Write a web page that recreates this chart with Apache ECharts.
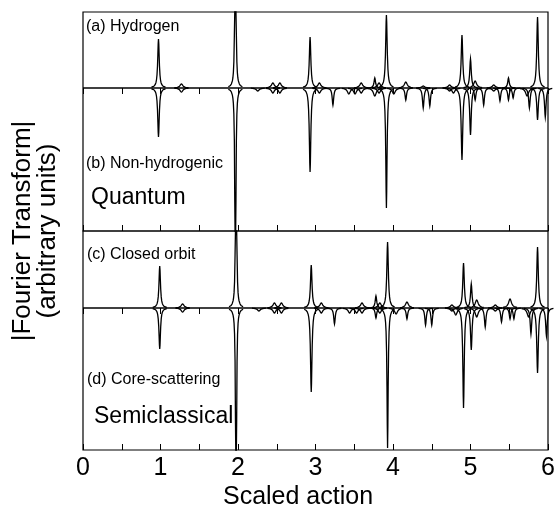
<!DOCTYPE html>
<html>
<head>
<meta charset="utf-8">
<script src="https://cdn.jsdelivr.net/npm/echarts@6/dist/echarts.min.js"></script>
<style>html,body{margin:0;padding:0;background:#fff}#c{width:560px;height:511px}</style>
</head>
<body>
<div id="c"></div>
<script>
// ---- data (arbitrary units; spikes given as [scaled action, amplitude]) ----
const xTicks = [0, 1, 2, 3, 4, 5, 6];
const hydrogen = [[0.974,49],[1.27,4],[1.966,300],[2.45,5],[2.54,5],[2.93,51],[3.05,5],[3.59,5],[3.765,10],[3.82,5],[3.915,73],[4.165,6],[4.39,2],[4.73,3],[4.89,53],[5.0,29],[5.06,7],[5.30,3],[5.49,10],[5.865,71]];
const nonHydrogenic = [[0.974,-49],[1.27,-4],[1.966,-300],[2.255,-3],[2.45,-5],[2.54,-5],[2.93,-84],[3.05,-5],[3.225,-17],[3.43,-6],[3.51,-6],[3.59,-5],[3.765,-8],[3.82,-5],[3.915,-120],[4.01,-6],[4.165,-12],[4.39,-20],[4.475,-18],[4.73,-3],[4.78,-5],[4.89,-72],[5.0,-47],[5.06,-12],[5.17,-17],[5.30,-3],[5.38,-13],[5.49,-12],[5.55,-10],[5.73,-8],[5.76,-20],[5.865,-32],[5.965,-29]];
const closedOrbit = [[0.99,42],[1.285,4],[1.975,300],[2.47,5],[2.56,5],[2.945,43],[3.075,5],[3.60,5],[3.78,12],[3.83,5],[3.93,66],[4.18,6],[4.76,3],[4.91,45],[5.01,24],[5.08,8],[5.32,3],[5.51,9],[5.865,61]];
const coreScattering = [[0.99,-41],[1.285,-4],[1.975,-300],[2.27,-3],[2.47,-5],[2.56,-5],[2.945,-84],[3.075,-5],[3.245,-16],[3.44,-5],[3.53,-5],[3.60,-5],[3.78,-10],[3.83,-5],[3.93,-140],[4.04,-6],[4.18,-11],[4.42,-17],[4.50,-17],[4.76,-3],[4.81,-7],[4.91,-100],[5.01,-42],[5.08,-9],[5.19,-19],[5.32,-3],[5.40,-14],[5.51,-11],[5.56,-11],[5.75,-9],[5.78,-26],[5.865,-65],[5.98,-28]];
const baseline = [[0,0],[6,0]];

// ---- rendering ----
const offs = [-7,-5,-4,-3,-2.5,-2,-1.5,-1,-0.6,-0.3,0,0.3,0.6,1,1.5,2,2.5,3,4,5,7];
function spike(params, api){
  const x = api.value(0), h = api.value(1);
  const p0 = api.coord([x, 0]), pt = api.coord([x, h]);
  const cs = params.coordSys;
  const H = pt[1] - p0[1];
  const A = Math.abs(H);
  const g = A < 10 ? 1.8 : (A > 80 ? 0.9 * Math.sqrt(80 / A) : 0.9);
  const pts = offs.map(d => {
    let y = p0[1] + H / (1 + (d/g)*(d/g));
    y = Math.max(cs.y, Math.min(cs.y + cs.height, y));
    return [p0[0] + d, y];
  });
  return {type:'polyline', shape:{points:pts}, style:{stroke:'#000', lineWidth:1.3, fill:null}};
}
const chart = echarts.init(document.getElementById('c'));
const FONT = '"Liberation Sans", Arial, Helvetica, sans-serif';
function xAx(grid, pos, labels){
  return {type:'value', gridIndex:grid, position:pos, min:0, max:6, interval:0.5,
    axisLine:{show:false}, splitLine:{show:false},
    axisTick:{show:true, inside:true, length:6, lineStyle:{color:'#000', width:1}},
    axisLabel:{show:labels, margin:6, fontSize:25, color:'#000', fontFamily:FONT,
      formatter: v => xTicks.includes(v) ? String(v) : ''}};
}
const txt = (text, x, y, size, align) => ({type:'text', x, y, silent:true,
  style:{text, font: size + 'px ' + FONT, fill:'#000', textAlign: align||'left', textVerticalAlign:'middle'}});
const spikeSeries = (data, xi, yi) => ({type:'custom', xAxisIndex:xi, yAxisIndex:yi, data, renderItem:spike, silent:true, animation:false});
const baseSeries = (xi, yi) => ({type:'line', xAxisIndex:xi, yAxisIndex:yi, data:baseline, symbol:'none', silent:true, animation:false, lineStyle:{color:'#000', width:1.6}});
chart.setOption({
  animation:false,
  backgroundColor:'#fff',
  grid:[
    {left:83, top:12, width:465, height:219, show:true, borderColor:'#000', borderWidth:1.2, backgroundColor:'transparent'},
    {left:83, top:231, width:465, height:219, show:true, borderColor:'#000', borderWidth:1.2, backgroundColor:'transparent'}
  ],
  xAxis:[xAx(0,'top',false), xAx(0,'bottom',false), xAx(1,'top',false), xAx(1,'bottom',true)],
  yAxis:[
    {type:'value', gridIndex:0, min:-143, max:76, show:false},
    {type:'value', gridIndex:1, min:-142, max:77, show:false}
  ],
  series:[
    baseSeries(0,0), spikeSeries(hydrogen,0,0), spikeSeries(nonHydrogenic,0,0),
    baseSeries(2,1), spikeSeries(closedOrbit,2,1), spikeSeries(coreScattering,2,1)
  ],
  graphic:[
    txt('(a) Hydrogen', 86, 27, 16),
    txt('(b) Non-hydrogenic', 86, 164, 16),
    txt('Quantum', 91, 198, 23),
    txt('(c) Closed orbit', 87, 255, 16),
    txt('(d) Core-scattering', 87, 380, 16),
    txt('Semiclassical', 94, 417, 23),
    txt('Scaled action', 298, 497, 25, 'center'),
    {type:'text', x:23, y:231, rotation:Math.PI/2, silent:true,
      style:{text:'|Fourier Transform|', font:'26px ' + FONT, fill:'#000', textAlign:'center', textVerticalAlign:'middle'}},
    {type:'text', x:48, y:231, rotation:Math.PI/2, silent:true,
      style:{text:'(arbitrary units)', font:'26px ' + FONT, fill:'#000', textAlign:'center', textVerticalAlign:'middle'}}
  ]
});
</script>
</body>
</html>
